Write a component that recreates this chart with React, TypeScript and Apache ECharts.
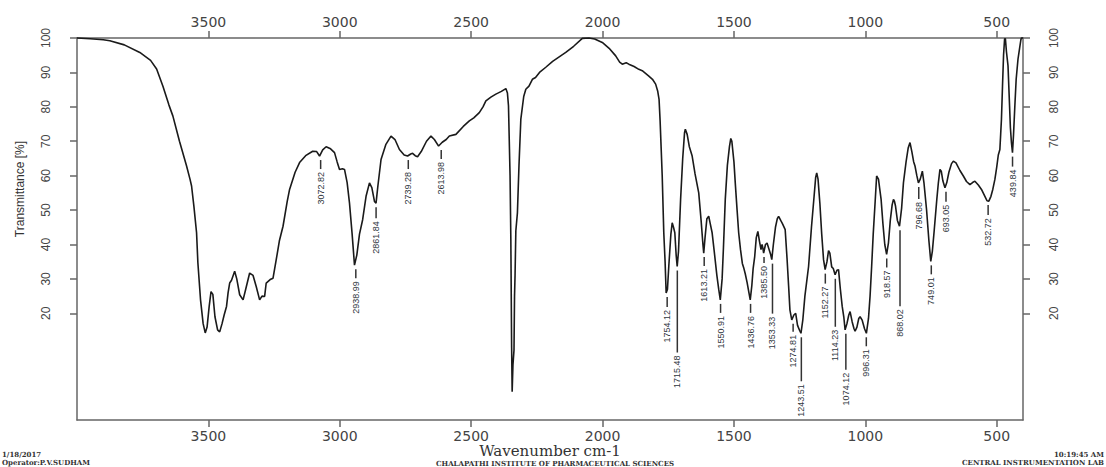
import React, { useEffect, useRef } from "react";
import * as echarts from "echarts";

// FTIR spectrum: wavenumber (cm-1) vs transmittance (%)
const wavenumbers = [
  4000, 3950, 3900, 3875, 3820, 3761, 3720, 3697, 3673, 3650, 3635, 3610, 3583, 3570, 3564, 3555, 3545, 3540,
  3530, 3520, 3512, 3505, 3497, 3490, 3483, 3475, 3465, 3457, 3448, 3440, 3431, 3425, 3419, 3412, 3400, 3392,
  3381, 3368, 3358, 3343, 3330, 3318, 3305, 3296, 3286, 3280, 3265, 3254, 3242, 3230, 3216, 3200, 3191, 3170,
  3153, 3130, 3103, 3088, 3077, 3065, 3052, 3035, 3020, 3010, 3001, 2990, 2982, 2972, 2963, 2953, 2944, 2935,
  2925, 2913, 2900, 2887, 2878, 2868, 2862, 2855, 2843, 2825, 2805, 2790, 2773, 2755, 2742, 2730, 2723, 2713,
  2704, 2690, 2670, 2653, 2640, 2624, 2610, 2595, 2583, 2558, 2530, 2507, 2490, 2469, 2455, 2444, 2425, 2406,
  2385, 2368, 2362, 2358, 2352, 2349, 2346, 2344, 2341, 2337, 2335, 2333, 2330, 2324, 2318, 2311, 2300, 2292,
  2280, 2267, 2255, 2240, 2216, 2190, 2165, 2140, 2110, 2077, 2052, 2030, 2001, 1975, 1950, 1935, 1925, 1910,
  1900, 1880, 1862, 1849, 1825, 1810, 1798, 1790, 1785, 1781, 1777, 1773, 1767, 1762, 1758, 1753, 1748, 1740,
  1735, 1730, 1725, 1720, 1716, 1711, 1703, 1695, 1688, 1685, 1678, 1670, 1659, 1648, 1634, 1625, 1618, 1615,
  1610, 1603, 1596, 1590, 1583, 1575, 1565, 1558, 1552, 1545, 1540, 1533, 1525, 1517, 1512, 1508, 1500, 1495,
  1488, 1482, 1475, 1468, 1462, 1457, 1450, 1443, 1438, 1432, 1427, 1421, 1415, 1409, 1403, 1397, 1393, 1390,
  1387, 1380, 1374, 1366, 1360, 1356, 1350, 1342, 1335, 1330, 1322, 1315, 1305, 1298, 1292, 1287, 1280, 1272,
  1265, 1258, 1250, 1245, 1238, 1230, 1216, 1205, 1195, 1189, 1185, 1180, 1173, 1166, 1159, 1153, 1146, 1140,
  1135, 1128, 1122, 1115, 1108, 1102, 1095, 1088, 1082, 1077, 1070, 1063, 1058, 1050, 1043, 1039, 1032, 1025,
  1020, 1012, 1003, 996, 988, 982, 976, 970, 963, 957, 950, 945, 940, 933, 926, 919, 912, 905,
  898, 893, 889, 885, 878, 870, 862, 855, 845, 837, 830, 823, 816, 811, 804, 798, 791, 783,
  777, 767, 758, 751, 745, 738, 728, 722, 716, 711, 705, 697, 690, 682, 672, 665, 655, 640,
  627, 615, 602, 592, 583, 570, 558, 545, 537, 530, 522, 515, 507, 500, 494, 488, 485, 482,
  478, 474, 470, 467, 463, 457, 452, 448, 444, 440, 436, 431, 426, 419, 413, 408, 406, 400,
];

const transmittance = [
  100, 99.8, 99.5, 99.2, 98, 95.8, 93.5, 91, 86, 80.5, 77.3, 70, 62.8, 59, 57, 51, 43.4, 34.7,
  24, 17, 14.3, 16, 22, 26.3, 25.5, 19, 15.2, 14.6, 17, 19.5, 22, 26, 28.8, 29.6, 32.2, 30,
  25.4, 23.9, 27, 31.7, 31, 27.8, 23.9, 25, 24.9, 28.8, 29.8, 30.2, 35.5, 41, 45.3, 52.5, 56, 61,
  63.8, 65.8, 67.1, 67, 65.7, 67.5, 68.4, 67.8, 66.7, 64, 61.8, 62, 61.8, 58, 52, 43, 34, 37,
  43, 47.2, 54, 57.9, 56.5, 52.5, 52, 57, 64.7, 69, 71.5, 70.5, 67.6, 66, 65.7, 66.3, 66.5, 65.8,
  65.5, 67, 70, 71.5, 70.5, 68.6, 69.7, 70.5, 71.5, 72, 74.3, 75.9, 76.8, 78.3, 80, 81.7, 82.8, 83.7,
  84.5, 85.3, 84, 80.3, 60, 41.4, 10, -2.8, 5, 9.3, 25, 31, 44, 49.2, 63, 76.4, 83, 85.1,
  86, 88, 88.5, 90, 91.5, 93.2, 94.5, 95.8, 97.6, 99.9, 100, 99.7, 98.7, 97, 94.8, 93, 92.4, 92.8,
  92.4, 91.7, 90.9, 90.5, 89, 88, 86.6, 84.5, 82.2, 76, 68, 60, 43.4, 35, 25.9, 27, 33.6, 43,
  46.3, 45, 43.4, 37, 33.6, 38, 53.1, 65, 72.5, 73.5, 72, 68.5, 65.7, 60.5, 55, 47, 40, 37.5,
  42, 47.5, 48.2, 46, 43.4, 38, 31, 27, 23.9, 30, 39, 53.1, 63, 68.5, 70.8, 70, 64, 57.9,
  50, 43.4, 38.5, 34.5, 33, 31.5, 29, 26, 23.9, 28, 33, 36.5, 42, 43.8, 41, 38.5, 40, 39,
  37.5, 40, 40.4, 38.5, 37, 35.6, 40, 45, 47.5, 48.2, 47, 46, 44.3, 36, 28, 21, 18.1, 19.5,
  20, 16.5, 15, 14.2, 18, 25, 33.6, 45, 54, 59.5, 60.8, 59, 52, 43, 35.6, 32.7, 35, 38.2,
  37.5, 33.5, 33, 31.2, 32.5, 32.7, 27, 22, 19, 15.2, 17, 19.5, 20.5, 17.5, 15.5, 14.8, 16, 18.5,
  19, 18, 15.5, 14.2, 18.5, 25, 33.6, 43, 52, 59.9, 59, 56, 53.1, 46, 40, 37.1, 40.5, 47,
  51.5, 53.1, 52.5, 51.1, 47, 45.3, 50.5, 57.9, 64, 68, 69.6, 67, 64, 62.8, 60, 57.9, 59, 61.3,
  58, 50.1, 41, 35.1, 38, 44, 53.1, 58, 61.8, 61.3, 58.5, 56.5, 58, 61, 63.5, 64.2, 63.7, 61.5,
  59.9, 58.3, 57.4, 58, 58.4, 57.3, 56, 54, 52.7, 52.6, 54, 56, 58.9, 62.5, 66, 67.6, 72, 76.4,
  86, 95, 99.8, 99.8, 96, 91.9, 82, 74, 69.6, 66.7, 72, 80.3, 88, 93.9, 97, 99.5, 100, 100,
];

// Picked absorption bands and their transmittance at the band minimum
const peakWavenumbers = [
  3072.82, 2938.99, 2861.84, 2739.28, 2613.98, 1754.12, 1715.48, 1613.21, 1550.91, 1436.76, 1385.5, 1353.33,
  1274.81, 1243.51, 1152.27, 1114.23, 1074.12, 996.31, 918.57, 868.02, 796.68, 749.01, 693.05, 532.72, 439.84,
];
const peakTransmittance = [
  65.7, 34, 52, 65.7, 68.6, 25.9, 33.6, 37.5, 23.9, 23.9, 37.5, 35.6,
  18.1, 14.2, 32.7, 31.2, 15.2, 14.2, 37.1, 45.3, 57.9, 35.1, 56.5, 52.6, 66.7,
];
// Leader length (px) below each band, long where the tag is pushed down to avoid overlap
const peakLeader = [
  9, 9, 11, 9, 9, 10, 82, 9, 9, 9, 6, 50,
  8, 44, 10, 48, 36, 9, 9, 76, 12, 9, 10, 10, 10,
];

const xTicks = [500, 1000, 1500, 2000, 2500, 3000, 3500];
const yTicks = [20, 30, 40, 50, 60, 70, 80, 90, 100];

const NARROW = "'Liberation Sans Narrow', 'Liberation Sans', Arial, sans-serif";
const AXIS_GREY = "#666";

function xAxisConfig(position: "top" | "bottom", withName: boolean) {
  return {
    type: "value",
    position,
    min: 400,
    max: 4000,
    inverse: true,
    splitLine: { show: false },
    axisLine: { show: true, onZero: false, lineStyle: { color: AXIS_GREY, width: 1.5 } },
    axisTick: { show: true, inside: false, length: 7, customValues: xTicks, lineStyle: { color: AXIS_GREY, width: 1.5 } },
    axisLabel: {
      customValues: xTicks,
      formatter: (v: number) => String(v),
      margin: 9,
      fontSize: 14,
      fontFamily: "'DejaVu Sans', sans-serif",
      color: "#444",
    },
    ...(withName
      ? {
          name: "Wavenumber cm-1",
          nameLocation: "middle",
          nameGap: 24,
          nameMoveOverlap: false,
          nameTextStyle: { fontFamily: "'DejaVu Serif', serif", fontSize: 15, lineHeight: 14, color: "#333" },
        }
      : {}),
  };
}

function yAxisConfig(position: "left" | "right") {
  return {
    type: "value",
    position,
    min: -11,
    max: 100,
    splitLine: { show: false },
    axisLine: { show: true, onZero: false, lineStyle: { color: AXIS_GREY, width: 1.5 } },
    axisTick: { show: true, inside: false, length: 7, customValues: yTicks, lineStyle: { color: AXIS_GREY, width: 1.5 } },
    axisLabel: { customValues: yTicks, rotate: 90, margin: 25, fontSize: 12, fontFamily: NARROW, color: "#444" },
  };
}

export default function App() {
  const ref = useRef<HTMLDivElement>(null);

  useEffect(() => {
    if (!ref.current) return;
    const chart = echarts.init(ref.current, undefined, { renderer: "svg" });

    const spectrum = wavenumbers.map((w, i) => [w, transmittance[i]]);
    const peaks = peakWavenumbers.map((w, i) => [w, peakTransmittance[i], peakLeader[i]]);

    const footerFont = "bold 7px 'DejaVu Serif', serif";

    chart.setOption({
      animation: false,
      backgroundColor: "#fff",
      grid: { left: 77, right: 83, top: 38, bottom: 47, containLabel: false },
      xAxis: [xAxisConfig("bottom", true), xAxisConfig("top", false)],
      yAxis: [yAxisConfig("left"), yAxisConfig("right")],
      series: [
        {
          type: "line",
          xAxisIndex: 0,
          yAxisIndex: 0,
          data: spectrum,
          showSymbol: false,
          clip: false,
          lineStyle: { color: "#1a1a1a", width: 1.6 },
          z: 3,
        },
        {
          type: "custom",
          xAxisIndex: 0,
          yAxisIndex: 0,
          data: peaks,
          encode: { x: 0, y: 1 },
          z: 4,
          renderItem: (params: any, api: any) => {
            const p = api.coord([api.value(0), api.value(1)]);
            const lead = api.value(2);
            const top = p[1] + 4;
            return {
              type: "group",
              children: [
                {
                  type: "line",
                  shape: { x1: p[0], y1: top, x2: p[0], y2: top + lead },
                  style: { stroke: "#333", lineWidth: 1.5 },
                },
                {
                  // tag reads bottom-to-top, its end sitting just under the leader
                  type: "text",
                  x: p[0],
                  y: top + lead + 3,
                  rotation: Math.PI / 2,
                  style: {
                    text: Number(api.value(0)).toFixed(2),
                    fill: "#2f3640",
                    fontSize: 9,
                    fontFamily: NARROW,
                    align: "right",
                    verticalAlign: "middle",
                  },
                },
              ],
            };
          },
        },
      ],
      graphic: [
        {
          type: "text",
          x: 20,
          y: 189,
          rotation: Math.PI / 2,
          style: {
            text: "Transmittance [%]",
            fill: "#333",
            fontSize: 12,
            fontFamily: NARROW,
            align: "center",
            verticalAlign: "middle",
          },
        },
        { type: "text", x: 2, y: 454, style: { text: "1/18/2017", fill: "#333", font: footerFont, verticalAlign: "middle" } },
        { type: "text", x: 2, y: 462, style: { text: "Operator:P.V.SUDHAM", fill: "#333", font: footerFont, verticalAlign: "middle" } },
        {
          type: "text",
          x: 555,
          y: 463.5,
          style: { text: "CHALAPATHI INSTITUTE OF PHARMACEUTICAL SCIENCES", fill: "#333", font: footerFont, align: "center", verticalAlign: "middle" },
        },
        { type: "text", x: 1104, y: 454, style: { text: "10:19:45 AM", fill: "#333", font: footerFont, align: "right", verticalAlign: "middle" } },
        { type: "text", x: 1104, y: 462, style: { text: "CENTRAL INSTRUMENTATION LAB", fill: "#333", font: footerFont, align: "right", verticalAlign: "middle" } },
      ],
    });

    return () => chart.dispose();
  }, []);

  return (
    <div
      ref={ref}
      style={{ position: "absolute", left: 0, top: 0, width: 1106, height: 467, background: "#fff" }}
    />
  );
}
